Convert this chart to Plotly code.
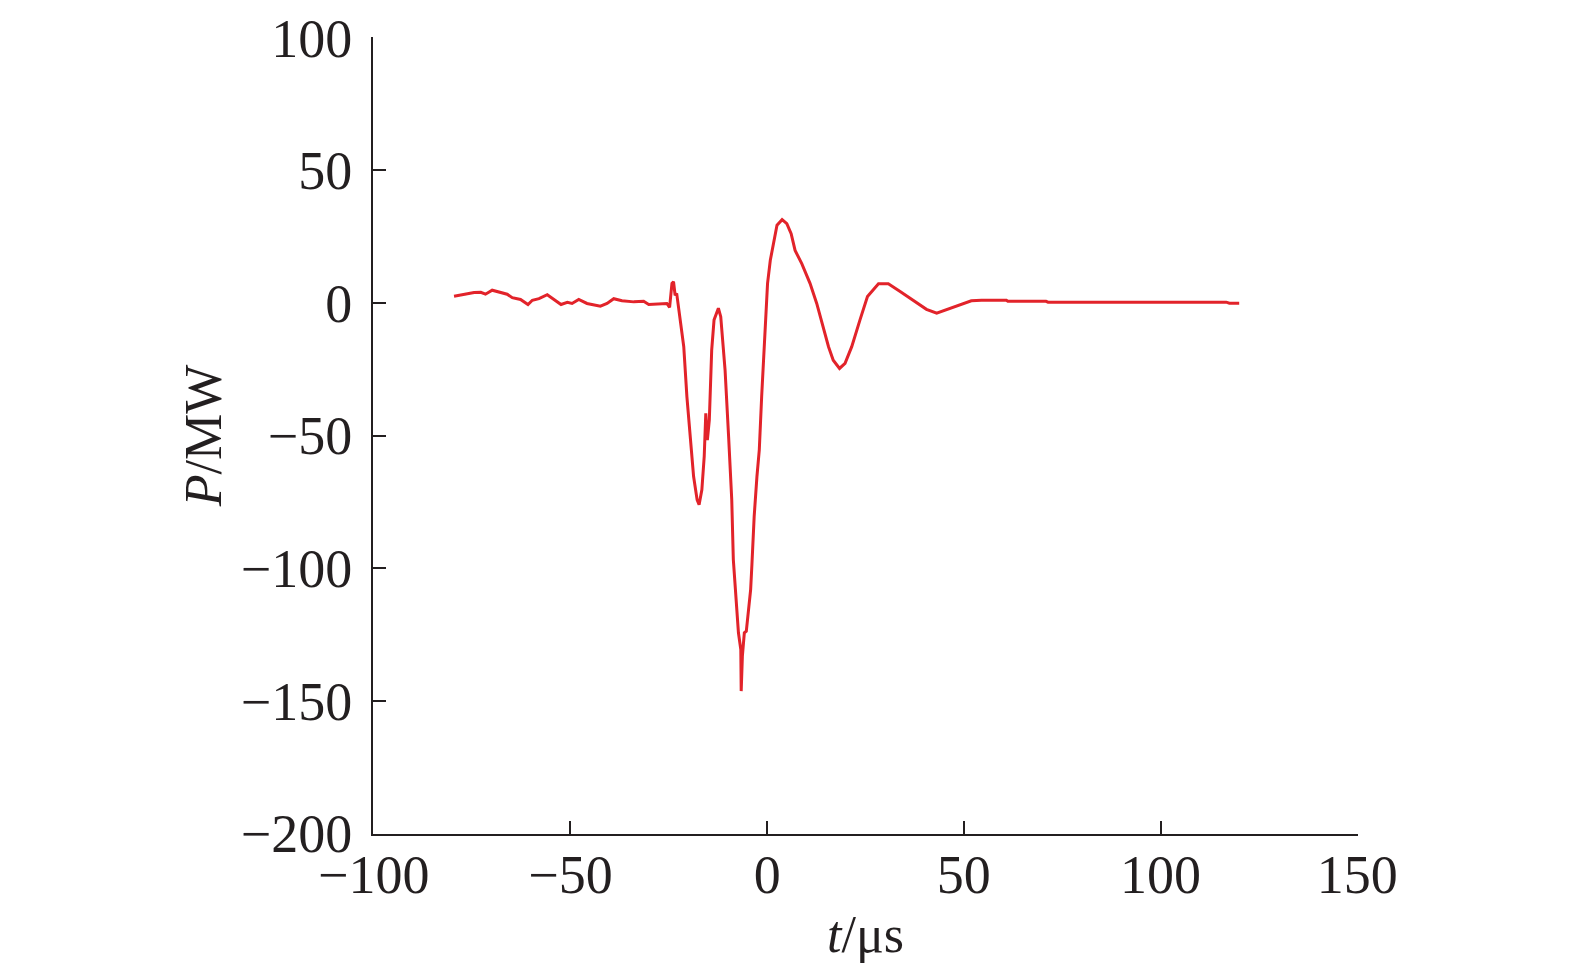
import plotly.graph_objects as go

t_us = [-79.6, -74.5, -72.8, -71.6, -69.9, -67.8, -66.1, -64.8, -62.7, -60.8, -59.7, -58.0,
        -55.9, -54.2, -52.4, -50.8, -49.6, -47.9, -45.8, -42.4, -40.7, -39.0, -36.9, -33.9,
        -31.4, -30.1, -27.2, -25.5, -24.8, -24.2, -23.8, -23.4, -23.0, -22.1, -21.2, -20.4,
        -19.5, -18.7, -17.8, -17.3, -16.6, -16.0, -15.6, -15.2, -14.7, -14.5, -14.1, -13.5,
        -12.4, -11.8, -10.7, -9.8, -9.0, -8.6, -7.9, -7.3, -6.7, -6.6, -6.3, -5.8, -5.3,
        -4.8, -4.2, -3.9, -3.3, -2.6, -2.0, -1.4, -0.5, 0.1, 0.8, 1.7, 2.5, 3.8, 5.0, 6.1,
        7.1, 8.8, 10.9, 12.6, 14.3, 15.6, 16.8, 18.4, 19.8, 21.5, 23.6, 25.5, 28.3, 30.8,
        33.8, 37.6, 40.5, 43.1, 45.6, 49.0, 51.9, 54.5, 60.8, 61.2, 70.9, 71.4, 116.7,
        117.5, 120.0]
p_mw = [2.5, 3.9, 4.0, 3.3, 4.8, 4.0, 3.3, 2.0, 1.3, -0.6, 1.0, 1.6,
        3.1, 1.3, -0.6, 0.2, -0.2, 1.3, -0.2, -1.2, -0.2, 1.6, 0.8, 0.4,
        0.6, -0.6, -0.2, -0.2, -1.7, 7.4, 8.0, 2.9, 3.6, -6.4, -16.5, -35.4,
        -52.9, -65.5, -74.3, -76.1, -70.5, -57.9, -41.6, -51.7, -44.1, -31.6, -17.8, -6.4,
        -2.0, -5.2, -25.3, -50.4, -74.3, -96.8, -111.9, -124.4, -130.7, -146.4, -133.2, -124.4, -123.8,
        -115.7, -108.1, -99.4, -80.5, -65.5, -55.4, -35.4, -11.5, 7.4, 16.1, 23.6, 29.3, 31.4, 29.9, 26.1,
        19.8, 14.8, 7.4, -0.2, -9.0, -16.5, -21.6, -24.7, -22.8, -16.5, -6.4, 2.4, 7.2, 7.2,
        4.3, 0.5, -2.4, -3.9, -2.6, -0.8, 0.8, 1.0, 1.0, 0.6, 0.6, 0.3, 0.3,
        -0.1, -0.1]

x_ticks = [-100, -50, 0, 50, 100, 150]
y_ticks = [100, 50, 0, -50, -100, -150, -200]

FONT = "Liberation Serif, Times New Roman, serif"
INK = "#231f20"

fig = go.Figure()
fig.add_trace(go.Scatter(x=t_us, y=p_mw, mode="lines",
                         line=dict(color="#e2232a", width=3), showlegend=False))

# page body has an 8px default margin; size the figure to compensate
fig.update_layout(
    width=1559, height=958,
    margin=dict(l=365, r=209, t=29, b=132),
    paper_bgcolor="white", plot_bgcolor="white",
    font=dict(family=FONT, size=54, color=INK),
)
fig.update_xaxes(range=[-100.2, 150.2], tickvals=x_ticks, ticks="inside", ticklen=13,
                 tickwidth=2, tickcolor=INK, showline=True, linecolor=INK,
                 linewidth=2, showgrid=False, zeroline=False, automargin=False,
                 ticklabelstandoff=-8,
                 title=dict(text="<i>t</i>/μs", font=dict(size=52), standoff=12))
fig.update_yaxes(range=[-200.3, 100.3], tickvals=y_ticks, ticks="inside", ticklen=13,
                 tickwidth=2, tickcolor=INK, showline=True, linecolor=INK,
                 linewidth=2, showgrid=False, zeroline=False, automargin=False,
                 ticklabelstandoff=8,
                 title=dict(text="<i>P</i>/MW", font=dict(size=52), standoff=3))

fig.write_html("out.html")
